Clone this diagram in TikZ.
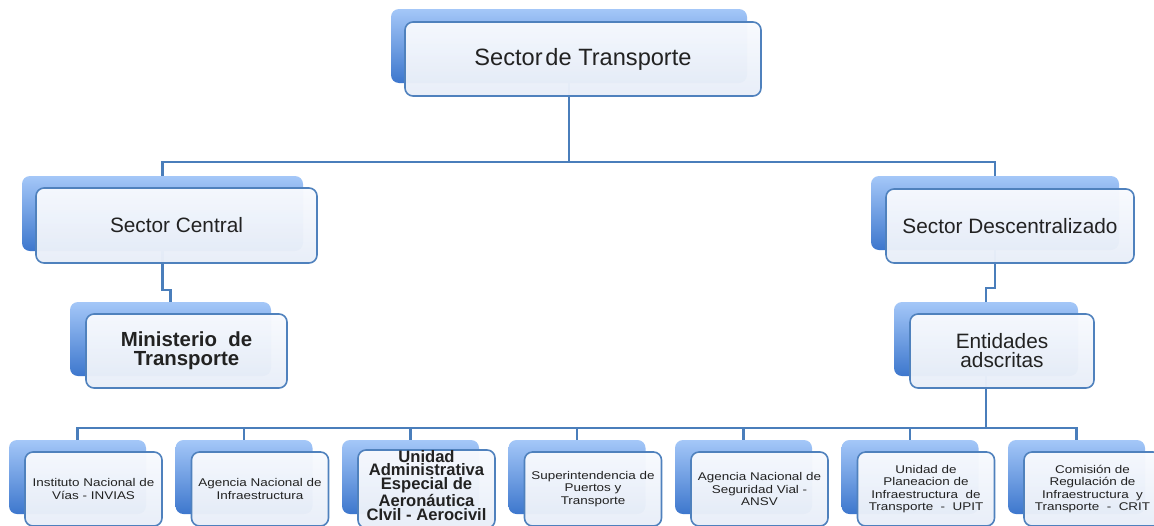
\documentclass[tikz,border=0pt]{standalone}
\usepackage{fontspec}
\setmainfont{Liberation Sans}
\newfontfamily\widefont[FakeStretch=1.2]{Liberation Sans}
\definecolor{linec}{HTML}{4A7EBB}
\definecolor{backtop}{HTML}{A4C7F8}
\definecolor{backbot}{HTML}{3D77CD}
\definecolor{frontbd}{HTML}{4F81BD}
\definecolor{frontA}{HTML}{F8FAFE}
\definecolor{frontB}{HTML}{E8EEF8}
\definecolor{txt}{HTML}{222222}
\tikzset{
  sz/.style 2 args={minimum width=#1*0.5pt, minimum height=#2*0.5pt},
  backbox/.style={rounded corners=4pt, top color=backtop, bottom color=backbot, draw=none, inner sep=0pt},
  frontbox/.style={rounded corners=4pt, draw=frontbd, line width=0.8pt, top color=frontA, bottom color=frontB,
    fill opacity=0.97, text opacity=1, draw opacity=1, inner sep=0pt, align=center, text=txt},
  conn/.style={draw=linec, line width=1.1pt},
  bigtxt/.style={font=\fontsize{11.8}{13}\selectfont},
  midtxt/.style={font=\fontsize{10.4}{9.5}\selectfont},
  midbold/.style={font=\fontsize{10.2}{9.5}\selectfont\bfseries},
  smalltxt/.style={font=\widefont\fontsize{5.6}{6.1}\selectfont},
  smallbold/.style={font=\fontsize{8.3}{6.8}\selectfont\bfseries},
}
\begin{document}
\begin{tikzpicture}[x=0.5pt,y=-0.5pt]
\clip (0,0) rectangle (1154,525);
\fill[white] (0,0) rectangle (1154,525);
% back boxes
\node[backbox, sz={356}{74}] (tb) at (569,46) {};
\node[backbox, sz={281}{75}] (cb) at (162.5,213.5) {};
\node[backbox, sz={201}{74}] (mb) at (170.5,339) {};
\node[backbox, sz={248}{74}] (db) at (995,213) {};
\node[backbox, sz={184}{74}] (eb) at (986,339) {};
\foreach \i in {1,...,7}{
  \node[backbox, sz={137}{74}] (b\i b) at ({77.5+166.5*(\i-1)},477) {};
}
% connectors
\coordinate (j1) at (569,162);
\coordinate (jc) at (170.5,290);
\coordinate (jd) at (986,288);
\coordinate (bus) at (986,428);
\draw[conn] (tb.south) -- (j1);
\draw[conn] (cb.north) |- (j1) -| (db.north);
\draw[conn] (cb.south) |- (jc) -- (mb.north);
\draw[conn] (db.south) |- (jd) -- (eb.north);
\draw[conn] (eb.south) -- (bus);
\draw[conn] (b1b.north) -- (b1b.north |- bus) -- (b7b.north |- bus) -- (b7b.north);
\foreach \i in {2,...,6}{
  \draw[conn] (bus -| b\i b.north) -- (b\i b.north);
}
% front boxes
\node[frontbox, sz={356}{74}, bigtxt] (t) at (583,59) {Sector\hspace{0.12em}de Transporte};
\node[frontbox, sz={281}{75}, midtxt] (c) at (176.5,225.5) {Sector Central};
\node[frontbox, sz={201}{74}, midbold] (m) at (186.5,351) {Ministerio\ \ de\\Transporte};
\node[frontbox, sz={248}{74}, midtxt] (d) at (1010,226) {Sector Descentralizado};
\node[frontbox, sz={184}{74}, midtxt] (e) at (1002,351) {Entidades\\adscritas};
\node[frontbox, sz={137}{74}, smalltxt] (b1) at (93.5,489) {Instituto Nacional de\\Vías - INVIAS};
\node[frontbox, sz={137}{74}, smalltxt] (b2) at (260,489) {Agencia Nacional de\\Infraestructura};
\node[frontbox, sz={137}{74}, smallbold] (b3) at (426.5,489) {Unidad\\Administrativa\\Especial de\\Aeronáutica\\CIvil - Aerocivil\\[-3pt]};
\node[frontbox, sz={137}{74}, smalltxt] (b4) at (593,489) {Superintendencia de\\Puertos y\\Transporte};
\node[frontbox, sz={137}{74}, smalltxt] (b5) at (759.5,489) {Agencia Nacional de\\Seguridad Vial -\\ANSV};
\node[frontbox, sz={137}{74}, smalltxt] (b6) at (926,489) {Unidad de\\Planeacion de\\Infraestructura\ \ de\\Transporte\ \ -\ \ UPIT};
\node[frontbox, sz={137}{74}, smalltxt] (b7) at (1092.5,489) {Comisión de\\Regulación de\\Infraestructura\ \ y\\Transporte\ \ -\ \ CRIT};
\end{tikzpicture}
\end{document}
